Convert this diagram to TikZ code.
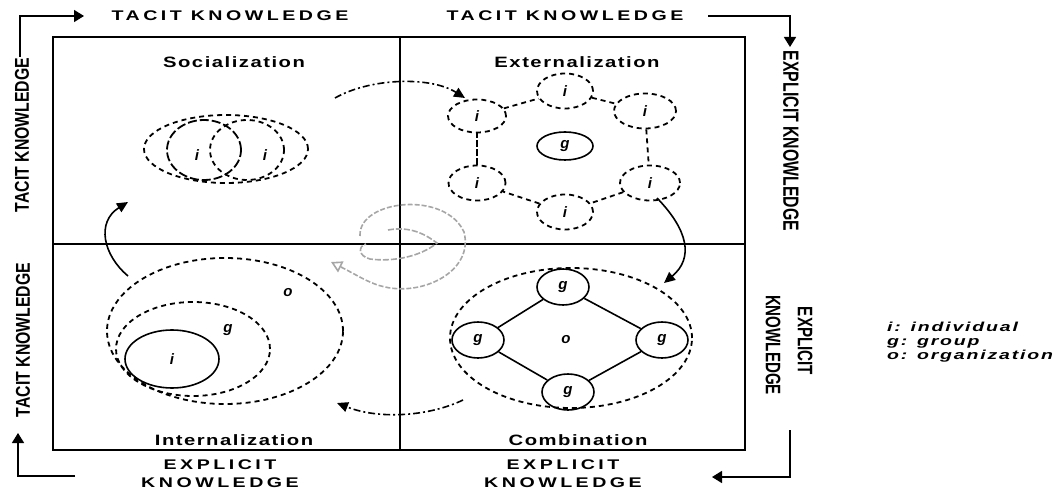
\documentclass[tikz,border=0pt]{standalone}
\usepackage{fontspec}
\setmainfont{Liberation Sans}
\usetikzlibrary{arrows.meta,shapes.geometric}
\newfontfamily\widefont[FakeStretch=1.4,LetterSpace=25]{Liberation Sans}
\newfontfamily\quadfont[FakeStretch=1.35,LetterSpace=10]{Liberation Sans}
\newfontfamily\tallfont[FakeStretch=0.79]{Liberation Sans}
\newfontfamily\talltfont[FakeStretch=0.72]{Liberation Sans}
\newfontfamily\legfont[FakeStretch=1.5,LetterSpace=14]{Liberation Sans}
\begin{document}
\begin{tikzpicture}[x=1pt,y=-1pt,
  axislbl/.style={font={\widefont\bfseries\fontsize{14}{18}\selectfont},align=center,inner sep=0},
  sidelbl/.style={font={\tallfont\bfseries\fontsize{20}{22}\selectfont},inner sep=0},
  sidelblb/.style={font={\talltfont\bfseries\fontsize{22}{24}\selectfont},inner sep=0},
  sidelblc/.style={font={\talltfont\bfseries\fontsize{21}{24}\selectfont},inner sep=0},
  quadlbl/.style={font={\quadfont\bfseries\fontsize{15}{17}\selectfont},inner sep=0},
  corner/.style={line width=1.5pt,-{Triangle[length=10pt,width=12pt]}},
  cyc/.style={line width=1.6pt,-{Triangle[length=11pt,width=10pt]}},
  dsh/.style={draw,line width=1.8pt,dash pattern=on 5pt off 4pt,ellipse,inner sep=0,font={\bfseries\itshape\fontsize{15}{15}\selectfont}},
  sol/.style={draw,line width=1.6pt,ellipse,inner sep=0,font={\bfseries\itshape\fontsize{15}{15}\selectfont}},
  lett/.style={font={\bfseries\itshape\fontsize{15}{15}\selectfont},inner sep=0},
  ring/.style={line width=1.8pt,dash pattern=on 5pt off 4pt}]
\useasboundingbox (0,0) rectangle (1062,494);
% main box
\node[draw,line width=2.6pt,minimum width=692pt,minimum height=413pt,inner sep=0] (box) at (399,243.5) {};
\coordinate (vt) at (400,37); \coordinate (vb) at (400,450);
\coordinate (hl) at (53,244); \coordinate (hr) at (745,244);
\draw[line width=2.6pt] (vt) -- (vb);
\draw[line width=2.6pt] (hl) -- (hr);
% axis labels
\node[axislbl] (ttl) at (230,16) {TACIT KNOWLEDGE};
\node[axislbl] (ttr) at (565,16) {TACIT KNOWLEDGE};
\node[axislbl] (bbl) at (220,474) {EXPLICIT\\KNOWLEDGE};
\node[axislbl] (bbr) at (563,474) {EXPLICIT\\KNOWLEDGE};
\node[sidelbl,rotate=90] (lu) at (22,135) {TACIT KNOWLEDGE};
\node[sidelbl,rotate=90] (ll) at (23,340) {TACIT KNOWLEDGE};
\node[sidelblb,rotate=-90] (ru) at (791,141) {EXPLICIT KNOWLEDGE};
\node[sidelblc,rotate=-90] (rl1) at (805,341) {EXPLICIT};
\node[sidelblc,rotate=-90] (rl2) at (773,345) {KNOWLEDGE};
% corner arrows
\coordinate (tlA) at (20,57); \coordinate (tlB) at (84,16);
\draw[corner] (tlA) |- (tlB);
\coordinate (trA) at (708,16); \coordinate (trB) at (790,47);
\draw[corner] (trA) -| (trB);
\coordinate (brA) at (790,430); \coordinate (brB) at (712,477);
\draw[corner] (brA) |- (brB);
\coordinate (blA) at (75,476); \coordinate (blB) at (18,433);
\draw[corner] (blA) -| (blB);
% quadrant titles
\node[quadlbl] (qs) at (234,62) {Socialization};
\node[quadlbl] (qe) at (577,62) {Externalization};
\node[quadlbl] (qi) at (234,440) {Internalization};
\node[quadlbl] (qc) at (578,440) {Combination};
% socialization
\node[dsh,minimum width=164pt,minimum height=68pt] (so) at (226,149) {};
\node[draw,ellipse,inner sep=0,line width=1.8pt,dash pattern=on 9pt off 3pt,minimum width=74pt,minimum height=60pt] (s1) at (204,150) {};
\node[dsh,minimum width=74pt,minimum height=60pt] (s2) at (247,150) {};
\node[lett] (s1l) at (197,155) {i};
\node[lett] (s2l) at (265,155) {i};
% externalization
\node[sol,minimum width=56pt,minimum height=28pt] (eg) at (565,146) {g};
\node[dsh,minimum width=56pt,minimum height=35pt] (et) at (565,91) {i};
\node[dsh,minimum width=58pt,minimum height=33pt] (etl) at (477,116) {i};
\node[dsh,minimum width=62pt,minimum height=35pt] (etr) at (645,111) {i};
\node[dsh,minimum width=57pt,minimum height=35pt] (ebl) at (477,183) {i};
\node[dsh,minimum width=60pt,minimum height=35pt] (ebr) at (650,183) {i};
\node[dsh,minimum width=56pt,minimum height=35pt] (eb) at (565,212) {i};
\draw[ring] (etl) -- (et);
\draw[ring] (et) -- (etr);
\draw[ring] (etr) -- (ebr);
\draw[ring] (ebr) -- (eb);
\draw[ring] (eb) -- (ebl);
\draw[line width=1.8pt,dash pattern=on 7pt off 2pt] (ebl) -- (etl);
% internalization
\node[dsh,minimum width=236pt,minimum height=146pt] (io) at (225,331) {};
\node[dsh,minimum width=154pt,minimum height=94pt] (ig) at (193,349) {};
\node[sol,minimum width=94pt,minimum height=58pt] (ii) at (172,359) {i};
\node[lett] (iol) at (288,293) {o};
\node[lett] (igl) at (228,330) {g};
% combination
\node[dsh,minimum width=242pt,minimum height=140pt] (co) at (571,338) {};
\node[lett] (col) at (566,340) {o};
\node[sol,minimum width=52pt,minimum height=36pt] (cgt) at (563,287) {g};
\node[sol,minimum width=52pt,minimum height=36pt] (cgl) at (478,340) {g};
\node[sol,minimum width=52pt,minimum height=36pt] (cgr) at (662,340) {g};
\node[sol,minimum width=52pt,minimum height=36pt] (cgb) at (568,392) {g};
\draw[line width=1.6pt] (cgt) -- (cgr) -- (cgb) -- (cgl) -- (cgt);
% cycle arrows
\coordinate (a1s) at (335,98); \coordinate (a1e) at (465,98);
\draw[cyc,dash pattern=on 7pt off 3pt on 2pt off 3pt] (a1s) .. controls (370,78) and (430,76) .. (a1e);
\coordinate (a2s) at (657,198); \coordinate (a2e) at (664,283);
\draw[cyc] (a2s) .. controls (688,230) and (694,258) .. (a2e);
\coordinate (a3s) at (463,400); \coordinate (a3e) at (337,403);
\draw[cyc,dash pattern=on 7pt off 3pt on 2pt off 3pt] (a3s) .. controls (430,416) and (380,420) .. (a3e);
\coordinate (a4s) at (128,276); \coordinate (a4e) at (128,202);
\draw[cyc] (a4s) .. controls (103,255) and (96,222) .. (a4e);
% central spiral (gray)
\coordinate (cs1) at (360,236); \coordinate (cs2) at (331,262);
\draw[gray!70,line width=1.6pt,dash pattern=on 5pt off 2pt,-{Triangle[open,length=11pt,width=12pt]}]
  (cs1) .. controls (358,200) and (445,190) .. (464,232)
  .. controls (474,270) and (425,296) .. (385,287)
  .. controls (370,284) and (355,274) .. (cs2);
\coordinate (ci1) at (388,230); \coordinate (ci2) at (366,244);
\draw[gray!70,line width=1.6pt,dash pattern=on 6pt off 2pt]
  (ci1) .. controls (410,226) and (425,234) .. (437,243)
  .. controls (420,257) and (392,262) .. (370,259)
  .. controls (358,256) and (358,246) .. (ci2);
% legend
\node[font={\legfont\bfseries\itshape\fontsize{13}{14}\selectfont},align=left,anchor=west,inner sep=0] (leg) at (887,342) {i: individual\\g: group\\o: organization};
\end{tikzpicture}
\end{document}
